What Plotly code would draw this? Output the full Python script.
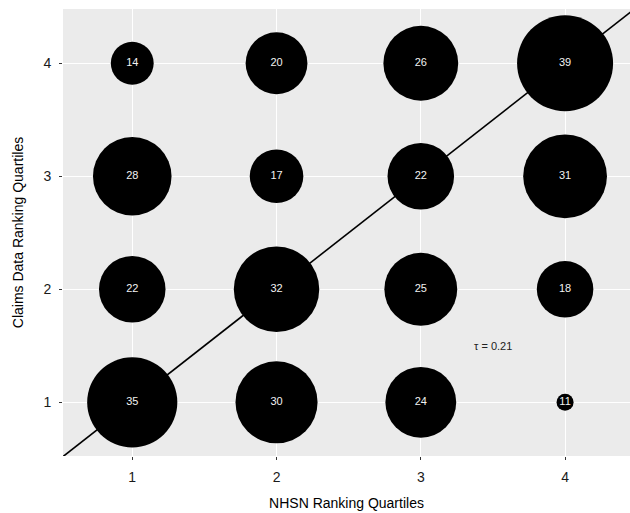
import plotly.graph_objects as go
import numpy as np

# Data
nhsn_q = [1, 2, 3, 4, 1, 2, 3, 4, 1, 2, 3, 4, 1, 2, 3, 4]
claims_q = [4, 4, 4, 4, 3, 3, 3, 3, 2, 2, 2, 2, 1, 1, 1, 1]
counts = [14, 20, 26, 39, 28, 17, 22, 31, 22, 32, 25, 18, 35, 30, 24, 11]
tick_vals = [1, 2, 3, 4]
tau_label = "τ = 0.21"
tau_pos = (3.5, 1.5)

x_range = [0.52, 4.45]
y_range = [0.525, 4.48]

# ggplot-like area scaling of bubble diameter
cmin, cmax = min(counts), max(counts)
dmin, dmax = 17, 96
sizes = [dmin + (dmax - dmin) * np.sqrt((c - cmin) / (cmax - cmin)) for c in counts]

FONT = "Liberation Sans, Arial, sans-serif"

fig = go.Figure()

lo, hi = 0.0, 5.0
fig.add_trace(go.Scatter(
    x=[lo, hi], y=[lo, hi], mode="lines",
    line=dict(color="black", width=1.6), hoverinfo="skip", showlegend=False,
))

fig.add_trace(go.Scatter(
    x=nhsn_q, y=claims_q, mode="markers+text",
    marker=dict(size=sizes, sizemode="diameter", color="black", line=dict(width=0), opacity=1),
    text=[str(c) for c in counts], textposition="middle center",
    textfont=dict(color="#f2f2f2", size=11, family=FONT),
    showlegend=False, cliponaxis=False,
))

fig.add_annotation(
    x=tau_pos[0], y=tau_pos[1], text=tau_label, showarrow=False,
    font=dict(size=11, color="#222222", family=FONT),
)

axis_common = dict(
    tickmode="array", tickvals=tick_vals,
    showgrid=True, gridcolor="white", gridwidth=1.2,
    zeroline=False, showline=False,
    ticks="outside", ticklen=3, tickwidth=1, tickcolor="#333333",
    tickfont=dict(size=14, color="#1a1a1a", family=FONT),
    ticklabelstandoff=5,
)

fig.update_xaxes(range=x_range, title=dict(text="NHSN Ranking Quartiles", standoff=14,
                 font=dict(size=14, color="black", family=FONT)),
                 **axis_common)
fig.update_yaxes(range=y_range, title=dict(text="Claims Data Ranking Quartiles", standoff=16,
                 font=dict(size=14, color="black", family=FONT)),
                 **axis_common)

fig.update_layout(
    width=630, height=513,
    margin=dict(l=63, r=0, t=9, b=57, autoexpand=False),
    plot_bgcolor="#EBEBEB", paper_bgcolor="white",
    font=dict(family=FONT),
)

fig.write_html(
    "out.html",
    config={"displayModeBar": False},
    post_script="document.body.style.margin='0px';document.body.style.padding='0px';"
                "document.body.style.overflow='hidden';document.documentElement.style.overflow='hidden';",
)
